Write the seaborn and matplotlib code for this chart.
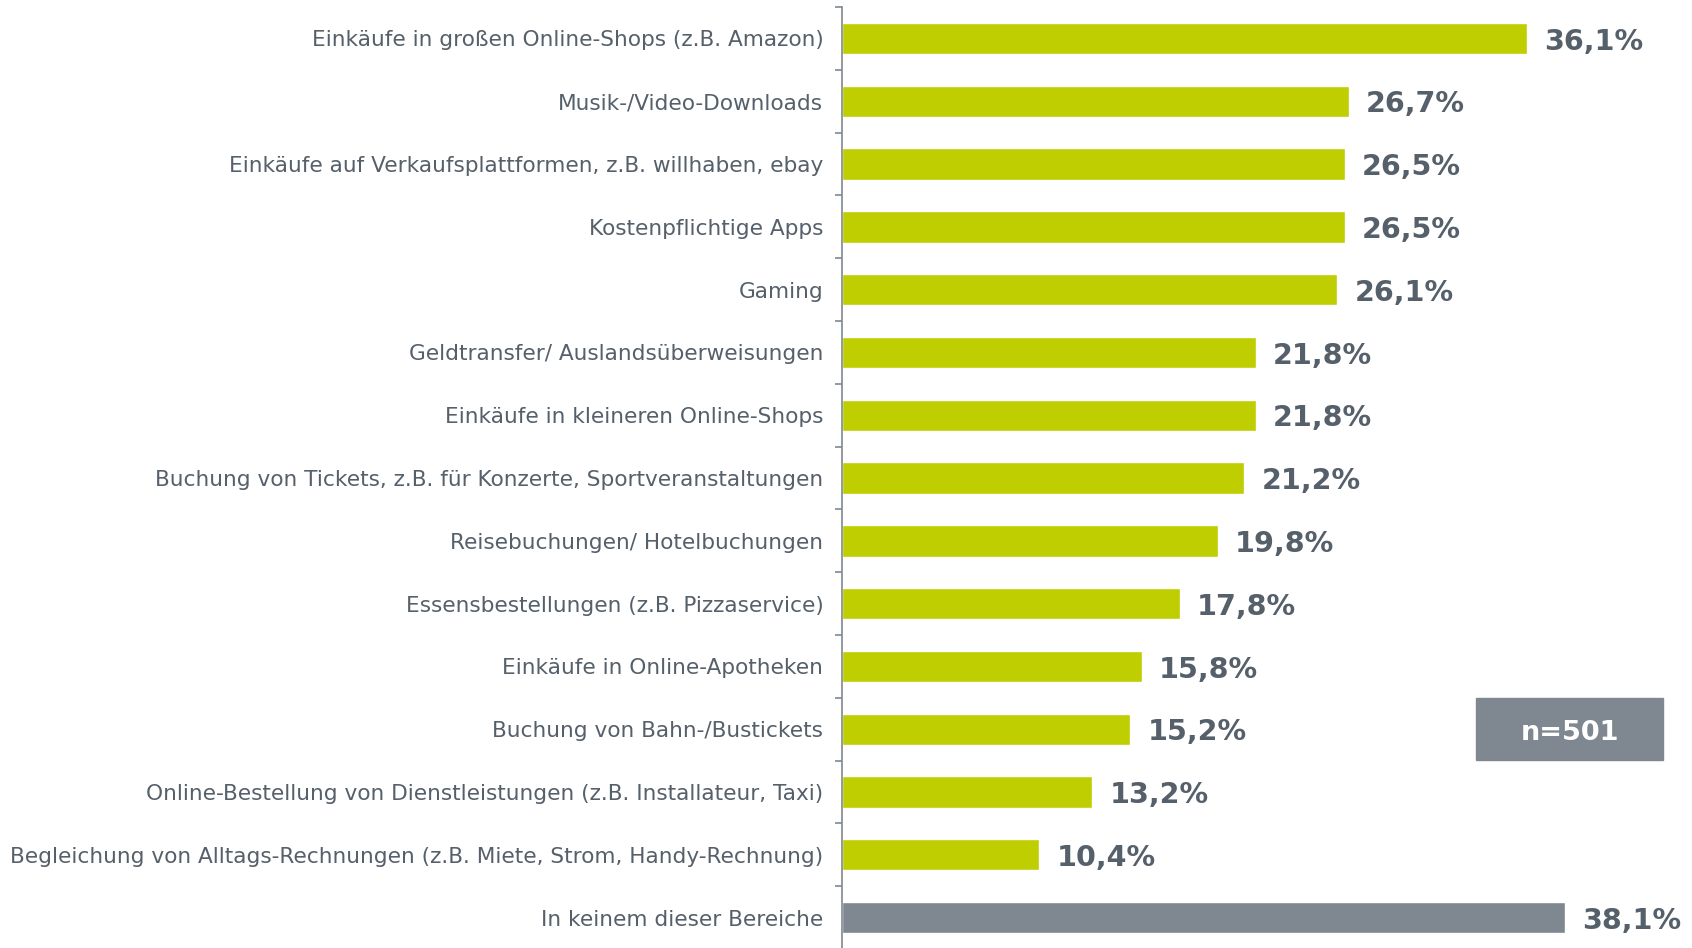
import matplotlib
matplotlib.use("Agg")
import matplotlib.pyplot as plt
import seaborn as sns
import pandas as pd
from matplotlib.patches import Rectangle

categories = [
    "Einkäufe in großen Online-Shops (z.B. Amazon)",
    "Musik-/Video-Downloads",
    "Einkäufe auf Verkaufsplattformen, z.B. willhaben, ebay",
    "Kostenpflichtige Apps",
    "Gaming",
    "Geldtransfer/ Auslandsüberweisungen",
    "Einkäufe in kleineren Online-Shops",
    "Buchung von Tickets, z.B. für Konzerte, Sportveranstaltungen",
    "Reisebuchungen/ Hotelbuchungen",
    "Essensbestellungen (z.B. Pizzaservice)",
    "Einkäufe in Online-Apotheken",
    "Buchung von Bahn-/Bustickets",
    "Online-Bestellung von Dienstleistungen (z.B. Installateur, Taxi)",
    "Begleichung von Alltags-Rechnungen (z.B. Miete, Strom, Handy-Rechnung)",
    "In keinem dieser Bereiche",
]
values = [36.1, 26.7, 26.5, 26.5, 26.1, 21.8, 21.8, 21.2, 19.8, 17.8, 15.8, 15.2, 13.2, 10.4, 38.1]
groups = ["ja"] * 14 + ["keine"]

df = pd.DataFrame({"bereich": categories, "anteil": values, "gruppe": groups})

green = "#bfce00"
grey = "#7f8790"
text_col = "#56606b"

sns.set_style("white")
plt.rcParams["font.family"] = ["DejaVu Sans"]

fig = plt.figure(figsize=(16.92, 9.48), dpi=100)
ax = fig.add_axes([842 / 1692, -1 / 948, 1 - 842 / 1692, 942 / 948])

sns.barplot(data=df, y="bereich", x="anteil", hue="gruppe", orient="h",
            palette={"ja": green, "keine": grey}, dodge=False, width=0.5,
            legend=False, ax=ax, saturation=1)

ax.set_xlim(0, 44.8)
ax.set_ylim(len(categories) - 0.5, -0.5)
ax.set_xlabel("")
ax.set_ylabel("")
ax.set_xticks([])

for s in ["top", "right", "bottom"]:
    ax.spines[s].set_visible(False)
ax.spines["left"].set_color(grey)
ax.spines["left"].set_linewidth(1.2)

# labels centred on bars, tick marks on the category edges
ax.set_yticks(range(len(categories)))
ax.set_yticklabels(categories, fontsize=15.6, color=text_col)
ax.tick_params(axis="y", which="major", length=0, pad=13.5)
ax.set_yticks([i - 0.5 for i in range(len(categories) + 1)], minor=True)
ax.tick_params(axis="y", which="minor", left=True, length=5, width=1.2,
               color=grey, direction="out")

for i, v in enumerate(values):
    ax.text(v + 0.9, i + 0.05, f"{v:.1f}%".replace(".", ","), va="center", ha="left",
            fontsize=20.6, fontweight="bold", color=text_col, clip_on=False)

fig.patches.append(Rectangle((1476 / 1692, 1 - 760 / 948), 187 / 1692, 62 / 948,
                             transform=fig.transFigure, color=grey))
fig.text(1569.5 / 1692, 1 - 733 / 948, "n=501", ha="center", va="center",
         fontsize=19.5, fontweight="bold", color="white")

fig.savefig("out.png", dpi=100)
